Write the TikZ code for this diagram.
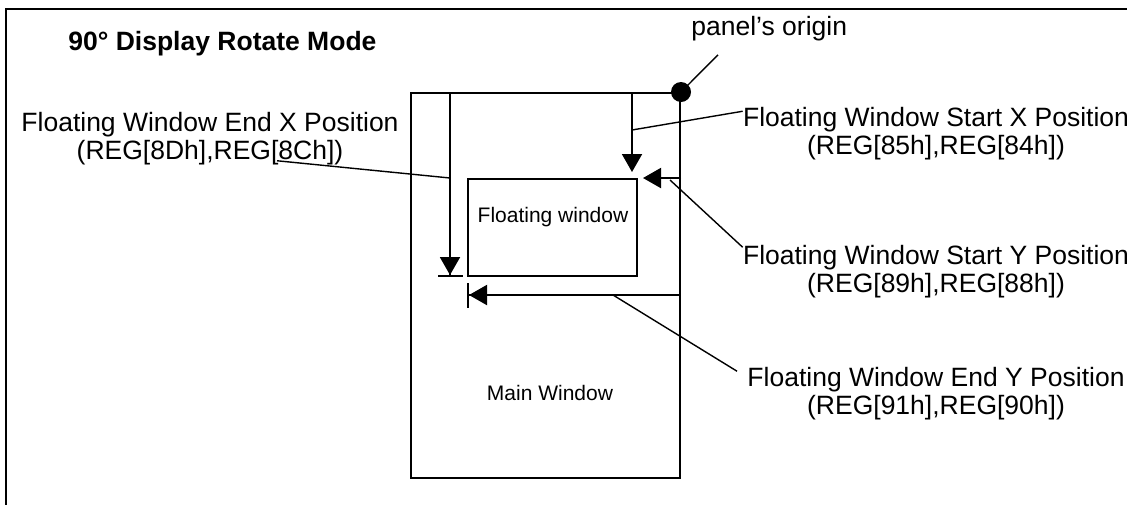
\documentclass[tikz,border=0pt]{standalone}
\usepackage{fontspec}
\setmainfont{Liberation Sans}
\usepackage{tikz}
\usetikzlibrary{arrows.meta,calc}

\tikzset{
  mainline/.style={line width=1pt},
  leader/.style={line width=0.7pt},
  tri/.style={mainline,-{Triangle[length=9pt,width=10pt]}},
  tribar/.style={mainline,-{Triangle[length=9pt,width=10pt]Bar[width=12.5pt]}},
  lbl/.style={align=center,inner sep=0pt,font=\fontsize{13.25}{14}\selectfont},
  smalltxt/.style={inner sep=0pt,font=\fontsize{10.5}{12}\selectfont}
}

\begin{document}
\begin{tikzpicture}[x=0.5pt,y=-0.5pt]
\useasboundingbox (0,0) rectangle (1127,504);
% outer frame
\draw[line width=1.2pt] (6,540) -- (6,9) -- (1160,9);

% windows
\node[draw,mainline,inner sep=0,minimum width=134.5pt,minimum height=192.5pt] (main) at (545.5,285.5) {};
\node[smalltxt] (maintxt) at (550,393) {Main Window};
\node[draw,mainline,inner sep=0,minimum width=84.5pt,minimum height=48.5pt] (float) at (552.5,227.5) {};
\node[smalltxt] (floattxt) at (553,217) {Floating window};
\coordinate (org) at (main.north east);
\fill (org) circle (5pt);

% arrows
\coordinate (ex) at (450,93);
\coordinate (sx) at (632,93);
\coordinate (ey) at (680,295);
\draw[tribar] (ex) -- (ex |- float.south);
\draw[tri] (sx) -- ($(sx |- float.north)+(0,-6)$);
\draw[tri] (main.east |- float.north) -- ($(float.north east)+(5,0)$);
\draw[tribar] (ey) -- (ey -| float.west);

% labels
\node[anchor=base west,inner sep=0,font=\bfseries\fontsize{13.25}{14}\selectfont] (title) at (68,50) {90° Display Rotate Mode};
\node[anchor=base west,inner sep=0,font=\fontsize{13.25}{14}\selectfont] (originlbl) at (691,35) {panel’s origin};
\node[lbl] (exlbl) at (210,139) {Floating Window End X Position\\(REG[8Dh],REG[8Ch])};
\node[lbl] (sxlbl) at (936,134) {Floating Window Start X Position\\(REG[85h],REG[84h])};
\node[lbl] (sylbl) at (936,272) {Floating Window Start Y Position\\(REG[89h],REG[88h])};
\node[lbl] (eylbl) at (936,394) {Floating Window End Y Position\\(REG[91h],REG[90h])};

% leaders
\draw[leader] (org) -- ($(originlbl.south west)+(27,14)$);
\draw[leader] (ex |- float.north) -- ($(exlbl.south)+(67,-5)$);
\draw[leader] ($(sx)+(0,37)$) -- ([yshift=-2pt]sxlbl.north west);
\draw[leader] (670,180) -- ([yshift=-1pt]sylbl.north west);
\draw[leader] (613,295) -- ($(eylbl.north west)+(-10,4)$);
\end{tikzpicture}
\end{document}
